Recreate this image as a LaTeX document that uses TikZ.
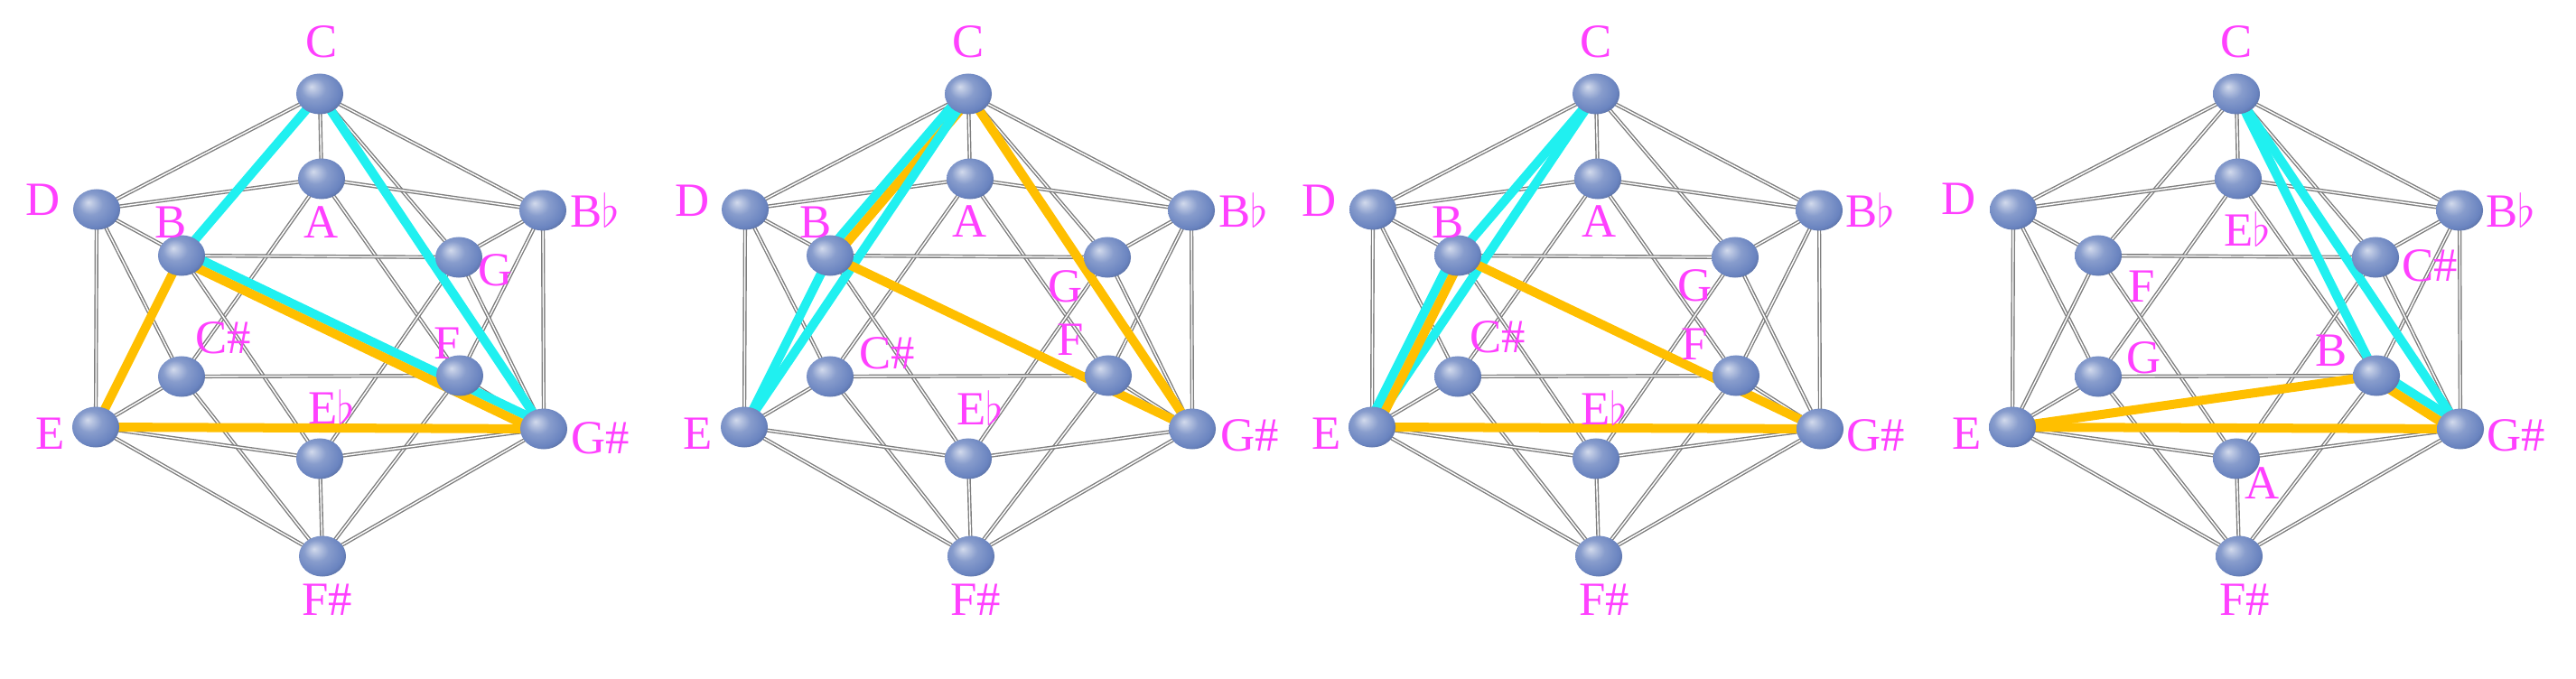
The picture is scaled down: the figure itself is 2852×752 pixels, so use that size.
\documentclass[tikz,border=0pt]{standalone}
\usepackage{fontspec}
\setmainfont{Liberation Serif}
\usetikzlibrary{calc,backgrounds,shapes.geometric}
\definecolor{notecolor}{HTML}{FF40FF}
\definecolor{cyanline}{HTML}{20F0F0}
\definecolor{orangeline}{HTML}{FFBF00}
\definecolor{ballcolor}{HTML}{6A84C0}
\definecolor{edgecolor}{HTML}{7E7E7E}
\pgfdeclareradialshading{bead}{\pgfpoint{-9bp}{9bp}}{%
  color(0bp)=(ballcolor!30!white); color(13bp)=(ballcolor!80!white);
  color(26bp)=(ballcolor); color(38bp)=(ballcolor!62!black); color(50bp)=(ballcolor!62!black)}

\tikzset{
  vertex/.style={ellipse, minimum width=0.52cm, minimum height=0.45cm, inner sep=0pt, shade, shading=bead},
  note/.style={text=notecolor, inner sep=0pt, font=\fontsize{15}{17}\selectfont},
  edge/.style={draw=edgecolor, line width=0.4pt, double=white, double distance=0.4pt},
  cyantri/.style={draw=cyanline, line width=0.1cm},
  orangetri/.style={draw=orangeline, line width=0.1cm},
}

% one icosahedron: #1 name prefix, #2 x of its centre line
\newcommand\icosa[2]{%
  \foreach \pos/\dx/\dy in {t/0/104, it/2/198, ul/-247/232, ur/247/233,
      iul/-153/283, iur/154/285, ill/-153/417, ilr/155/416,
      ll/-248/473, lr/248/475, ib/0/508, b/3/616}
    \node[vertex] (#1\pos) at (#2+\dx,\dy) {};
  \begin{scope}[on background layer]
    \foreach \a/\b in {t/ul, t/ur, t/it, t/iul, t/iur,
        b/ll, b/lr, b/ib, b/ill, b/ilr,
        ul/it, ul/iul, ul/ll, ul/ill,
        ur/it, ur/iur, ur/lr, ur/ilr,
        ll/ill, ll/iul, ll/ib,
        lr/ilr, lr/iur, lr/ib,
        it/ill, it/ilr, ib/iul, ib/iur,
        iul/iur, ill/ilr}
      \draw[edge] (#1\a.center) -- (#1\b.center);
  \end{scope}
}

\begin{document}
\begin{tikzpicture}[x=0.01cm, y=-0.01cm]
  \useasboundingbox (0,0) rectangle (2852,752);
  \icosa{p1}{354}
  \icosa{p2}{1072}
  \icosa{p3}{1767}
  \icosa{p4}{2476}

  % note names
  \foreach \pos/\dx/\dy/\txt in {t/2/-58/C, it/0/48/A, ul/-59/-11/D, ur/58/0/B$\flat$,
      iul/-12/-37/B, iur/41/14/G, ill/46/-43/C\#, ilr/-14/-36/F,
      ib/13/-57/E$\flat$, ll/-50/7/E, lr/63/10/G\#, b/5/48/F\#}
    \node[note] (p1n\pos) at ($(p1\pos)+(\dx,\dy)$) {\txt};
  \foreach \pos/\dx/\dy/\txt in {t/0/-58/C, it/0/47/A, ul/-58/-10/D, ur/58/0/B$\flat$,
      iul/-16/-37/B, iur/-46/32/G, ill/63/-26/C\#, ilr/-42/-40/F,
      ib/13/-56/E$\flat$, ll/-51/7/E, lr/64/7/G\#, b/5/48/F\#}
    \node[note] (p2n\pos) at ($(p2\pos)+(\dx,\dy)$) {\txt};
  \foreach \pos/\dx/\dy/\txt in {t/0/-58/C, it/2/47/A, ul/-59/-10/D, ur/57/0/B$\flat$,
      iul/-11/-37/B, iur/-44/31/G, ill/44/-44/C\#, ilr/-46/-35/F,
      ib/9/-56/E$\flat$, ll/-50/7/E, lr/62/7/G\#, b/6/48/F\#}
    \node[note] (p3n\pos) at ($(p3\pos)+(\dx,\dy)$) {\txt};
  \foreach \pos/\dx/\dy/\txt in {t/0/-58/C, it/10/56/E$\flat$, ul/-60/-12/D, ur/57/0/B$\flat$,
      iul/48/34/F, iur/60/9/C\#, ill/51/-21/G, ilr/-50/-28/B,
      ib/29/27/A, ll/-50/7/E, lr/62/7/G\#, b/6/48/F\#}
    \node[note] (p4n\pos) at ($(p4\pos)+(\dx,\dy)$) {\txt};

  % the two triangles of each panel
  \begin{scope}[on background layer]
    \draw[cyantri] (p1t.center) -- (p1iul.center);
    \draw[cyantri] (p1t.center) -- (p1lr.center);
    \draw[cyantri] ($(p1iul)!0.05cm!90:(p1lr)$) -- ($(p1lr)!0.05cm!-90:(p1iul)$);
    \draw[orangetri] ($(p1iul)!0.05cm!-90:(p1lr)$) -- ($(p1lr)!0.05cm!90:(p1iul)$);
    \draw[orangetri] (p1iul.center) -- (p1ll.center);
    \draw[orangetri] (p1ll.center) -- (p1lr.center);

    \draw[cyantri] ($(p2t)!0.05cm!-90:(p2iul)$) -- ($(p2iul)!0.05cm!90:(p2t)$);
    \draw[orangetri] ($(p2t)!0.05cm!90:(p2iul)$) -- ($(p2iul)!0.05cm!-90:(p2t)$);
    \draw[cyantri] (p2iul.center) -- (p2ll.center);
    \draw[cyantri] (p2t.center) -- (p2ll.center);
    \draw[orangetri] (p2iul.center) -- (p2lr.center);
    \draw[orangetri] (p2t.center) -- (p2lr.center);

    \draw[cyantri] (p3t.center) -- (p3iul.center);
    \draw[cyantri] (p3t.center) -- (p3ll.center);
    \draw[cyantri] ($(p3iul)!0.05cm!-90:(p3ll)$) -- ($(p3ll)!0.05cm!90:(p3iul)$);
    \draw[orangetri] ($(p3iul)!0.05cm!90:(p3ll)$) -- ($(p3ll)!0.05cm!-90:(p3iul)$);
    \draw[orangetri] (p3iul.center) -- (p3lr.center);
    \draw[orangetri] (p3ll.center) -- (p3lr.center);

    \draw[cyantri] (p4t.center) -- (p4ilr.center);
    \draw[cyantri] (p4t.center) -- (p4lr.center);
    \draw[cyantri] ($(p4ilr)!0.05cm!90:(p4lr)$) -- ($(p4lr)!0.05cm!-90:(p4ilr)$);
    \draw[orangetri] ($(p4ilr)!0.05cm!-90:(p4lr)$) -- ($(p4lr)!0.05cm!90:(p4ilr)$);
    \draw[orangetri] (p4ll.center) -- (p4ilr.center);
    \draw[orangetri] (p4ll.center) -- (p4lr.center);
  \end{scope}
\end{tikzpicture}
\end{document}
